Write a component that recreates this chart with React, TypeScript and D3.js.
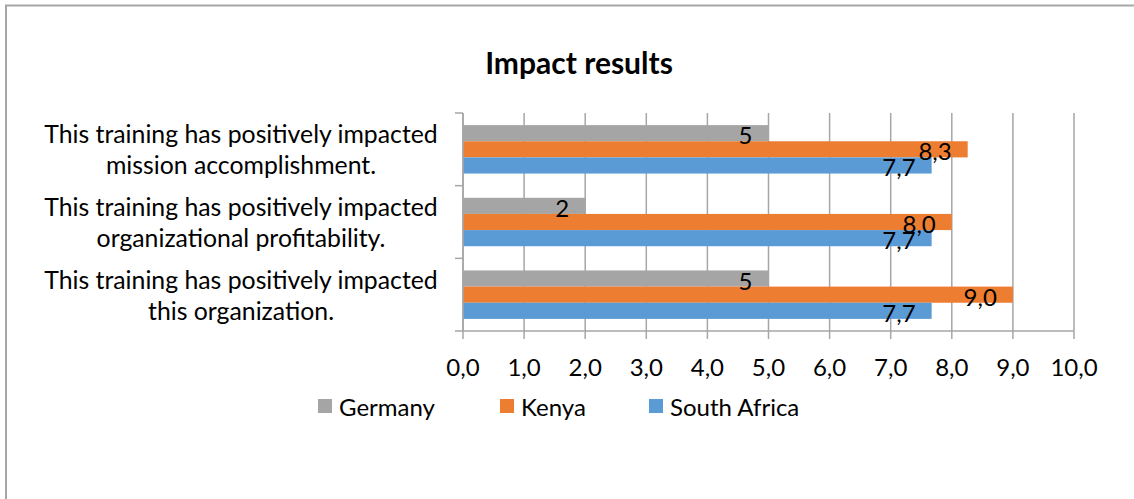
import React from "react";
import * as d3 from "d3";

// Survey statements (top to bottom) and per-country scores
const categories = [
  "This training has positively impacted mission accomplishment.",
  "This training has positively impacted organizational profitability.",
  "This training has positively impacted this organization.",
];
const categoryLines = [
  ["This training has positively impacted", "mission accomplishment."],
  ["This training has positively impacted", "organizational profitability."],
  ["This training has positively impacted", "this organization."],
];
const seriesNames = ["Germany", "Kenya", "South Africa"];
const germany = [5, 2, 5];
const kenya = [8.26, 8.0, 9.0];
const southAfrica = [7.67, 7.67, 7.67];
const xTicks = [0, 1, 2, 3, 4, 5, 6, 7, 8, 9, 10];
const seriesColors = ["#a5a5a5", "#ed7d31", "#5b9bd5"];

const W = 1134;
const H = 499;
const FONT = "Lato, 'Open Sans', sans-serif";

const fmtAxis = (v: number) => d3.format(".1f")(v).replace(".", ",");
const fmtLabel = (v: number, s: number) =>
  s === 0 ? d3.format("d")(v) : d3.format(".1f")(v).replace(".", ",");

export default function App() {
  const x = d3.scaleLinear().domain([0, 10]).range([463, 1074]);
  const y = d3.scaleBand<string>().domain(categories).range([113, 331]);
  const inner = d3
    .scaleBand<string>()
    .domain(seriesNames)
    .range([0, y.bandwidth()])
    .paddingInner(0)
    .paddingOuter(0.75);
  const values = [germany, kenya, southAfrica];
  const [x0] = x.range();
  const [yTop, yBot] = y.range();
  const boundaries = [...categories.map((c) => y(c)!), yBot];
  const gridColor = "#a6a6a6";

  return (
    <svg
      width={W}
      height={H}
      style={{ position: "fixed", left: 0, top: 0, display: "block", background: "#fff" }}
      fontFamily={FONT}
    >
      <rect x={0} y={0} width={W} height={H} fill="#fff" />
      <rect x={6} y={5.5} width={W + 40} height={H + 40} fill="none" stroke="#a6a6a6" strokeWidth={2} />

      <text x={579} y={62} textAnchor="middle" dominantBaseline="central" fontSize={30} fontWeight={700} fill="#000">
        Impact results
      </text>

      {/* vertical gridlines */}
      {xTicks.map((t) => (
        <line key={"g" + t} x1={x(t)} x2={x(t)} y1={yTop} y2={yBot} stroke={gridColor} strokeWidth={1.5} />
      ))}

      {/* bars */}
      {categories.map((c, ci) =>
        seriesNames.map((s, si) => (
          <rect
            key={c + s}
            x={x0}
            y={y(c)! + inner(s)!}
            width={x(values[si][ci]) - x0}
            height={inner.bandwidth()}
            fill={seriesColors[si]}
          />
        ))
      )}

      {/* data labels */}
      {categories.map((c, ci) =>
        seriesNames.map((s, si) => (
          <text
            key={"l" + c + s}
            x={x(values[si][ci]) - 16}
            y={y(c)! + inner(s)! + inner.bandwidth() / 2 + 1.5}
            textAnchor="end"
            dominantBaseline="central"
            fontSize={24}
            fill="#000"
          >
            {fmtLabel(values[si][ci], si)}
          </text>
        ))
      )}

      {/* category axis */}
      <line x1={x0} x2={x0} y1={yTop} y2={yBot} stroke={gridColor} strokeWidth={1.5} />
      {boundaries.map((b, i) => (
        <line key={"yt" + i} x1={x0 - 8} x2={x0} y1={b} y2={b} stroke={gridColor} strokeWidth={1.5} />
      ))}
      {categories.map((c, ci) => (
        <text key={"c" + ci} textAnchor="middle" fontSize={24.8} fill="#000">
          {categoryLines[ci].map((ln, li) => (
            <tspan
              key={li}
              x={241}
              y={y(c)! + y.bandwidth() / 2 + (li - 0.5) * 31}
              dominantBaseline="central"
            >
              {ln}
            </tspan>
          ))}
        </text>
      ))}

      {/* value axis */}
      <line x1={x0} x2={x(10)} y1={yBot} y2={yBot} stroke={gridColor} strokeWidth={1.5} />
      {xTicks.map((t) => (
        <g key={"xt" + t}>
          <line x1={x(t)} x2={x(t)} y1={yBot} y2={yBot + 8} stroke={gridColor} strokeWidth={1.5} />
          <text x={x(t)} y={366.5} textAnchor="middle" dominantBaseline="central" fontSize={24} fill="#000">
            {fmtAxis(t)}
          </text>
        </g>
      ))}

      {/* legend */}
      {seriesNames.map((s, si) => {
        const lx = [318, 500, 649][si];
        return (
          <g key={"lg" + s}>
            <rect x={lx} y={399} width={14} height={14} fill={seriesColors[si]} />
            <text x={lx + 21} y={406.5} dominantBaseline="central" fontSize={24} fill="#000">
              {s}
            </text>
          </g>
        );
      })}
    </svg>
  );
}
